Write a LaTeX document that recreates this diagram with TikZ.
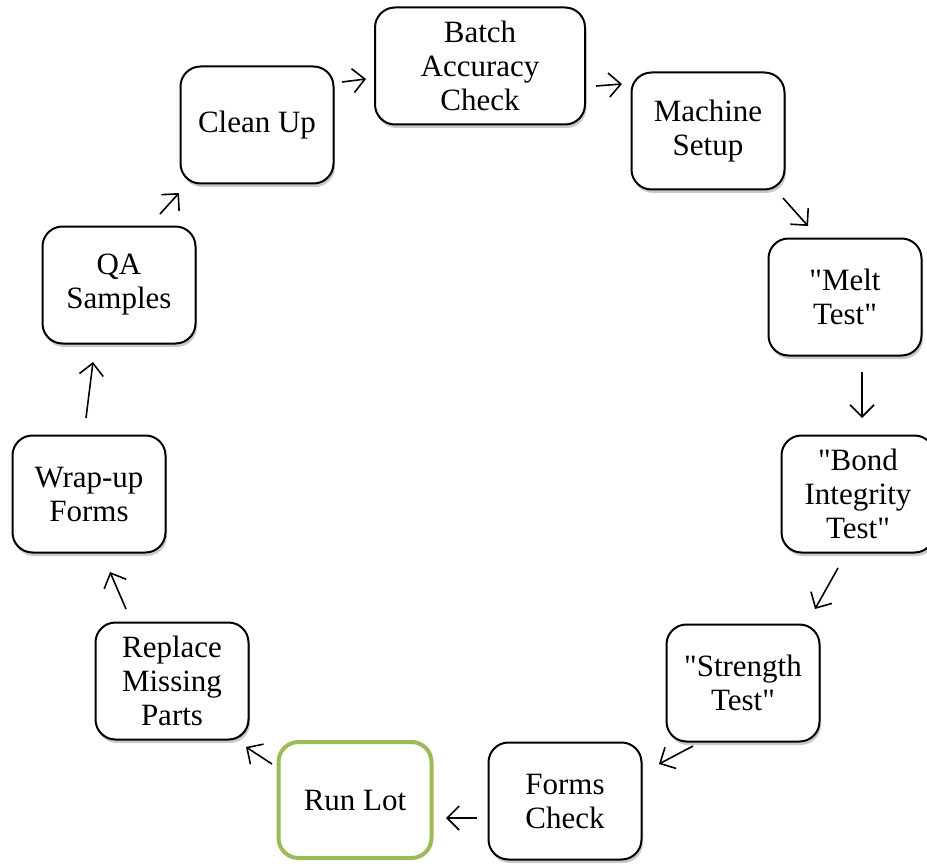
\documentclass[tikz,border=0pt]{standalone}
\usepackage{fontspec}
\setmainfont{Liberation Serif}[Ligatures=TeXOff]
\usetikzlibrary{arrows.meta,shadows}
\definecolor{olivegreen}{RGB}{155,187,89}
\tikzset{
  x=1pt,y=-1pt,
  box/.style={draw=black,line width=2pt,rounded corners=20pt,fill=white,
    minimum width=153pt,minimum height=117pt,align=center,inner sep=2pt,
    font=\fontsize{31}{34}\selectfont,
    drop shadow={shadow xshift=1.5pt,shadow yshift=-3.5pt,opacity=0.35,fill=black!60}},
  greenbox/.style={draw=olivegreen,line width=4pt,rounded corners=20pt,fill=white,
    minimum width=153pt,minimum height=116pt,align=center,inner sep=2pt,
    font=\fontsize{31}{34}\selectfont},
  arr/.style={line width=1.6pt,-{Straight Barb[length=12pt,width=24pt,line width=1.6pt]}}
}
\begin{document}
\begin{tikzpicture}
\useasboundingbox (0,0) rectangle (927,864);
\node[box,minimum width=210pt] (batch) at (480,66) {Batch\\Accuracy\\Check};
\node[box] (machine) at (708,131) {Machine\\Setup};
\node[box] (melt) at (845,297) {"Melt\\Test"};
\node[box] (bond) at (858,494) {"Bond\\Integrity\\Test"};
\node[box] (strength) at (743,683) {"Strength\\Test"};
\node[box] (forms) at (565,801) {Forms\\Check};
\node[greenbox] (runlot) at (355,800) {Run Lot};
\node[box] (replace) at (172,681) {Replace\\Missing\\Parts};
\node[box] (wrap) at (89,494) {Wrap-up\\Forms};
\node[box] (qa) at (119,285) {QA\\Samples};
\node[box] (clean) at (257,125) {Clean Up};

\coordinate (c1s) at (342,82); \coordinate (c1e) at (366,79);
\coordinate (c2s) at (596,86); \coordinate (c2e) at (622,84);
\coordinate (c3s) at (783,198); \coordinate (c3e) at (808,226);
\coordinate (c4s) at (862,372); \coordinate (c4e) at (862,418);
\coordinate (c5s) at (838,568); \coordinate (c5e) at (815,609);
\coordinate (c6s) at (693,746); \coordinate (c6e) at (659,764);
\coordinate (c7s) at (477,818); \coordinate (c7e) at (446,818);
\coordinate (c8s) at (272,764); \coordinate (c8e) at (246,747);
\coordinate (c9s) at (126,609); \coordinate (c9e) at (110,572);
\coordinate (c10s) at (86,418); \coordinate (c10e) at (93,362);
\coordinate (c11s) at (160,214); \coordinate (c11e) at (179,193);

\draw[arr] (c1s) -- (c1e);
\draw[arr] (c2s) -- (c2e);
\draw[arr] (c3s) -- (c3e);
\draw[arr] (c4s) -- (c4e);
\draw[arr] (c5s) -- (c5e);
\draw[arr] (c6s) -- (c6e);
\draw[arr] (c7s) -- (c7e);
\draw[arr] (c8s) -- (c8e);
\draw[arr] (c9s) -- (c9e);
\draw[arr] (c10s) -- (c10e);
\draw[arr] (c11s) -- (c11e);
\end{tikzpicture}
\end{document}
